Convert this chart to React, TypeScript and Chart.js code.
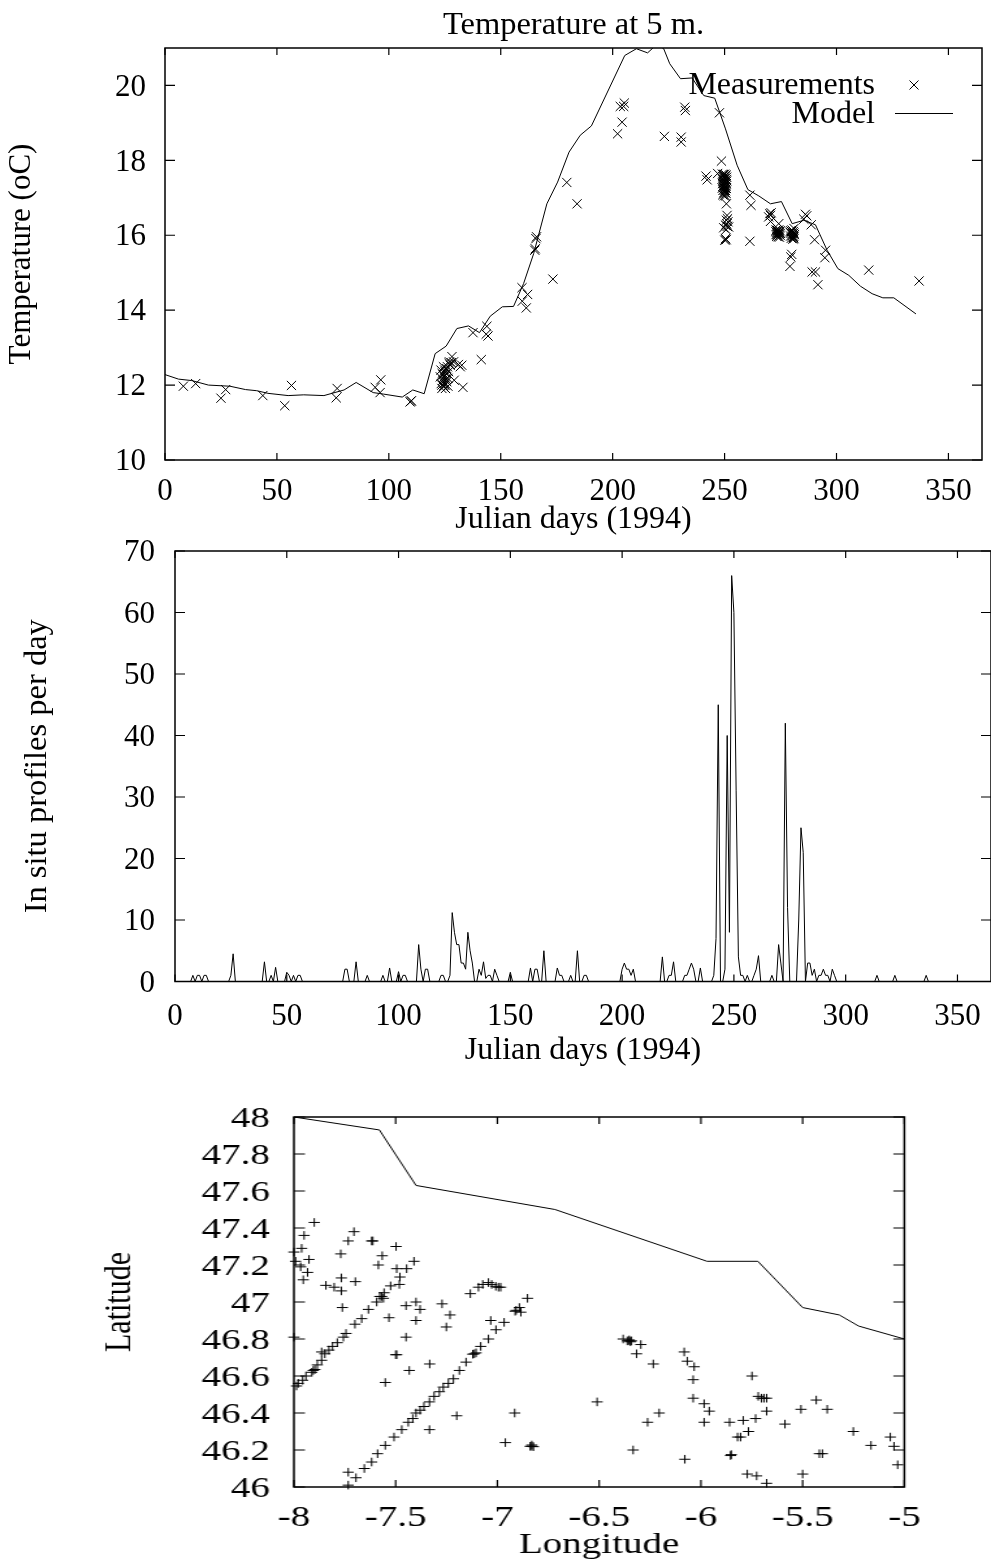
import React, { useEffect, useRef } from "react";
import { Chart, registerables } from "chart.js";

Chart.register(...registerables);

const modelCurve: number[][] = [
  [0, 12.28], [6, 12.16], [12, 12.12], [19.4, 12.0], [29, 11.97], [36, 11.88], [41, 11.85], [46, 11.78], [55, 11.72],
  [62, 11.74], [71, 11.72], [80, 11.87], [85.4, 12.07], [93, 11.8], [97.6, 11.76], [106, 11.68], [110.7, 11.87],
  [115.8, 11.77], [120.7, 12.84], [125.6, 13.04], [130.4, 13.51], [135.6, 13.58], [140.5, 13.4], [145.3, 13.84],
  [150.7, 14.09], [155.7, 14.1], [160.2, 14.71], [164.7, 15.51], [170.6, 16.84], [175.4, 17.42], [180.5, 18.22],
  [185.5, 18.67], [190.5, 18.92], [205.4, 20.8], [210.6, 20.98], [215.6, 20.87], [219.8, 21.1], [222.8, 20.98],
  [225.5, 20.58], [230.3, 20.18], [235.5, 20.2], [240.7, 19.73], [245.6, 19.66], [250.4, 18.84], [255.6, 17.87],
  [260.4, 17.22], [265.3, 17.05], [270.5, 16.84], [275.4, 16.9], [280.2, 16.31], [285.4, 16.4], [290.6, 16.28],
  [295.8, 15.6], [300.6, 15.11], [305.5, 14.93], [310.7, 14.64], [315.9, 14.44], [320.7, 14.33], [325.6, 14.33],
  [335.5, 13.9],
];

const earlyMeasurements: number[][] = [
  [8.2, 11.97], [13.7, 12.04], [25, 11.65], [27.1, 11.88], [43.7, 11.72], [53.5, 11.45], [56.5, 11.99], [76.5, 11.66],
  [76.9, 11.91], [93.9, 11.94], [96.4, 12.14], [96.1, 11.8], [109.8, 11.57], [109.5, 11.55], [110.1, 11.58],
];

const springCluster: number[][] = [
  [123.7, 11.91], [124.4, 11.96], [123.4, 12.04], [125.2, 12.0], [124.1, 12.13], [125.9, 12.09], [124.7, 12.22],
  [126.4, 12.18], [123.0, 12.22], [123.8, 12.31], [125.6, 12.31], [123.3, 12.4], [125.0, 12.4], [126.7, 12.36],
  [124.4, 12.49], [126.2, 12.49], [127.4, 12.53], [128.2, 12.76], [127.1, 12.62], [128.9, 12.62], [131.1, 12.55],
  [132.6, 12.53], [131.9, 12.49], [129.2, 12.13], [133.1, 11.94], [125.3, 11.91], [126.4, 11.97], [123.7, 12.0],
  [124.9, 12.05], [125.5, 12.16], [124.3, 12.27], [125.2, 12.35], [125.9, 12.44], [126.9, 12.58], [127.9, 12.6], [124.6, 11.99],
];

const summerMeasurements: number[][] = [
  [137.6, 13.4], [141.3, 12.68], [143.8, 13.57], [143.5, 13.36], [144.3, 13.31], [159.5, 14.6], [162.0, 14.42],
  [159.6, 14.24], [161.4, 14.06], [165.7, 15.91], [165.4, 15.64], [165.2, 15.6], [166, 15.96], [173.3, 14.83],
  [179.5, 17.41], [184.1, 16.84], [202.2, 18.71], [204.2, 19.02], [203.4, 19.44], [205.2, 19.53], [204.9, 19.44],
  [223.1, 18.64], [230.6, 18.62], [230.6, 18.49], [232.2, 19.42], [232.5, 19.33], [247.7, 19.27], [241.7, 17.58],
  [242.2, 17.48], [246.9, 17.65], [248.6, 17.98],
];

const autumnBlockA: number[][] = [
  [249, 17.63], [249.5, 17.62], [250, 17.63], [250.6, 17.61], [249.2, 17.57], [249.8, 17.56], [250.4, 17.58], [250.9, 17.55],
  [249, 17.5], [249.6, 17.5], [250.2, 17.52], [250.8, 17.49], [249.3, 17.44], [249.9, 17.45], [250.5, 17.43], [251, 17.45],
  [249.1, 17.38], [249.7, 17.39], [250.3, 17.37], [250.8, 17.38], [249.4, 17.32], [250, 17.33], [250.6, 17.31], [249, 17.26],
  [249.6, 17.27], [250.2, 17.26], [250.8, 17.25], [249.3, 17.2], [249.9, 17.2], [250.5, 17.19], [249.5, 17.13], [250.1, 17.14],
  [250.7, 17.12], [249.2, 17.08], [249.8, 17.06], [250.4, 17.05], [250.8, 16.84],
];

const autumnBlockB: number[][] = [
  [251.1, 16.53], [251.3, 16.44], [250.8, 16.4], [251.5, 16.36], [250.4, 16.27], [249.6, 16.2], [251.8, 16.22], [251.0, 16.3],
  [250.7, 16.15], [251.2, 16.24], [250.4, 15.91], [250.1, 15.87], [250.7, 15.88], [261.3, 17.07], [261.8, 16.8], [261.3, 15.84],
  [270.2, 16.58], [270.5, 16.53], [270.8, 16.6], [269.7, 16.49], [270.5, 16.37], [274.2, 16.31],
];

const autumnBlockC: number[][] = [
  [273, 16.14], [273.6, 16.13], [274.2, 16.14], [274.8, 16.12], [273.2, 16.08], [273.8, 16.07], [274.4, 16.06], [273, 16.02],
  [273.6, 16.01], [274.2, 16.03], [274.8, 16.0], [273.3, 15.97], [273.9, 15.96], [274.5, 15.95], [279.5, 16.12], [280.1, 16.14],
  [280.7, 16.1], [281, 16.18], [279.7, 16.05], [280.4, 16.04], [281, 16.06], [279.5, 15.98], [280.2, 15.99], [280.9, 15.97],
  [279.8, 15.92], [280.5, 15.9], [281, 15.91], [272.9, 16.1], [274.9, 16.05], [273.4, 16.04], [274.6, 16.09], [279.3, 16.08],
  [281.2, 16.02], [279.9, 16.1], [280.8, 15.94],
];

const lateMeasurements: number[][] = [
  [279.6, 15.42], [279.2, 15.17], [280, 15.49], [286.1, 16.56], [286.7, 16.52], [285.4, 16.43], [288.7, 16.28], [290.2, 15.88],
  [289.1, 15.02], [290.6, 15.02], [291.7, 14.68], [295.1, 15.6], [294.8, 15.4], [314.4, 15.07], [336.9, 14.78],
];

const profileDays: number[] = [
  8, 10, 11, 13, 14, 25, 26, 40, 43, 45, 50, 51, 53, 55, 56, 76, 77, 81, 86, 93, 96, 100, 102, 103, 109, 110, 112, 113,
  119, 120, 123, 124, 125, 126, 127, 128, 129, 130, 131, 132, 133, 136, 137, 138, 139, 140, 141, 143, 144, 150, 159, 161,
  162, 165, 171, 172, 173, 177, 180, 183, 184, 200, 201, 202, 203, 204, 205, 218, 221, 222, 223, 228, 229, 230, 231, 232,
  235, 241, 242, 243, 246, 247, 248, 249, 250, 251, 252, 253, 254, 256, 259, 260, 261, 267, 270, 271, 273, 274, 279, 280,
  281, 283, 284, 285, 286, 288, 289, 290, 291, 292, 294, 295, 314, 322, 336,
];
const profileCounts: number[] = [
  1, 1, 1, 1, 1, 1, 4.5, 3.2, 1, 2.3, 1.5, 1, 1, 1, 1, 2, 2, 3.2, 1, 1, 2.2, 1.6, 1, 1, 6, 2, 2, 2,
  1, 1, 1, 11.2, 8, 6, 6, 3, 3, 2, 8, 5, 3, 2, 1, 3.2, 0.5, 1, 1, 2, 1, 1.5, 2.2, 2,
  2, 5, 2.2, 1, 1, 1, 5, 1, 1, 2, 3, 2, 2, 1, 2, 4, 1, 1, 3.2, 1, 1, 2, 3, 2,
  2.2, 1, 7, 45, 2, 40, 8, 66, 60, 31, 4, 1, 1, 1, 1, 2, 4.2, 1, 6, 3, 42, 12, 10, 25,
  21, 3, 3, 1, 2, 1, 1, 2, 1, 1, 2, 1, 1, 1, 1,
];

const cruisePositions: number[][] = [
  [-7.9, 47.43], [-7.95, 47.36], [-7.962, 47.29], [-8.0, 47.27], [-7.992, 47.22], [-7.967, 47.19], [-7.926, 47.23],
  [-7.933, 47.16], [-7.954, 47.12], [-8.0, 46.81], [-7.705, 47.38], [-7.733, 47.33], [-7.77, 47.26], [-7.618, 47.33],
  [-7.612, 47.33], [-7.498, 47.3], [-7.566, 47.25], [-7.585, 47.2], [-7.41, 47.22], [-7.495, 47.18], [-7.446, 47.18],
  [-7.479, 47.135], [-7.482, 47.095], [-7.525, 47.087], [-7.843, 47.09], [-7.802, 47.08], [-7.767, 47.13], [-7.698, 47.11],
  [-7.767, 47.06], [-7.762, 46.97], [-7.557, 47.05], [-7.569, 47.03], [-7.578, 47.03], [-7.56, 47.02], [-7.593, 47.0],
  [-7.634, 46.96], [-7.667, 46.91], [-7.7, 46.88], [-7.744, 46.83], [-7.757, 46.81], [-7.787, 46.78], [-7.81, 46.76],
  [-7.828, 46.74], [-7.848, 46.72], [-7.864, 46.73], [-7.864, 46.685], [-7.885, 46.66], [-7.905, 46.63], [-7.912, 46.62],
  [-7.897, 46.635], [-7.941, 46.6], [-7.957, 46.577], [-7.979, 46.56], [-7.987, 46.546], [-7.533, 46.915], [-7.449, 46.98],
  [-7.4, 47.0], [-7.38, 46.96], [-7.4, 46.9], [-7.449, 46.81], [-7.5, 46.715], [-7.495, 46.715], [-7.433, 46.63],
  [-7.551, 46.565], [-7.333, 46.665], [-7.272, 46.99], [-7.233, 46.93], [-7.251, 46.865], [-7.133, 47.045], [-7.093, 47.08],
  [-7.072, 47.095], [-7.044, 47.105], [-7.028, 47.095], [-7.008, 47.085], [-6.995, 47.08], [-6.984, 47.08], [-6.852, 47.02],
  [-6.892, 46.97], [-6.913, 46.95], [-6.908, 46.955], [-6.885, 46.945], [-7.033, 46.9], [-6.967, 46.89], [-7.007, 46.85],
  [-7.044, 46.8], [-7.082, 46.76], [-7.113, 46.72], [-7.121, 46.718], [-7.105, 46.725], [-7.154, 46.675], [-7.187, 46.63],
  [-7.216, 46.585], [-7.241, 46.56], [-7.266, 46.54], [-7.285, 46.515], [-7.311, 46.49], [-7.334, 46.46], [-7.361, 46.435],
  [-7.38, 46.415], [-7.4, 46.4], [-7.416, 46.37], [-7.438, 46.35], [-7.47, 46.31], [-7.508, 46.27], [-7.551, 46.225],
  [-7.589, 46.18], [-7.618, 46.135], [-7.654, 46.1], [-7.695, 46.05], [-7.733, 46.08], [-7.733, 46.01], [-7.334, 46.31],
  [-7.2, 46.385], [-6.915, 46.4], [-6.961, 46.24], [-6.831, 46.22], [-6.839, 46.22], [-6.823, 46.218], [-6.831, 46.227],
  [-6.51, 46.46], [-6.382, 46.8], [-6.352, 46.79], [-6.362, 46.79], [-6.346, 46.785], [-6.352, 46.795], [-6.341, 46.79],
  [-6.295, 46.77], [-6.316, 46.72], [-6.234, 46.665], [-6.333, 46.2], [-6.205, 46.4], [-6.262, 46.35], [-6.082, 46.73],
  [-6.067, 46.68], [-6.033, 46.65], [-6.038, 46.58], [-6.038, 46.48], [-5.984, 46.45], [-5.959, 46.41], [-5.984, 46.35],
  [-6.079, 46.15], [-5.859, 46.35], [-5.792, 46.36], [-5.731, 46.37], [-5.766, 46.3], [-5.82, 46.27], [-5.805, 46.27],
  [-5.854, 46.17], [-5.851, 46.175], [-5.749, 46.6], [-5.718, 46.49], [-5.702, 46.48], [-5.69, 46.48], [-5.677, 46.48],
  [-5.677, 46.41], [-5.587, 46.34], [-5.508, 46.42], [-5.433, 46.47], [-5.379, 46.42], [-5.251, 46.3], [-5.164, 46.225],
  [-5.069, 46.27], [-5.051, 46.22], [-5.033, 46.12], [-5.418, 46.18], [-5.403, 46.18], [-5.5, 46.07], [-5.772, 46.07],
  [-5.726, 46.06], [-5.677, 46.02],
];

const coastline: number[][] = [
  [-8, 48], [-7.58, 47.93], [-7.4, 47.63], [-6.717, 47.5], [-5.97, 47.22], [-5.72, 47.22], [-5.5, 46.97], [-5.32, 46.93],
  [-5.225, 46.87], [-5, 46.8],
];

const FONT = "'Liberation Serif', 'Times New Roman', serif";
const INK = "#000";

const toXY = (rows: number[][]) => rows.map(([x, y]) => ({ x, y }));

function frameAndTicks(xLen: number, yLen: number) {
  return {
    id: "frameAndTicks",
    afterDraw(chart: any) {
      const { ctx, chartArea: a, scales } = chart;
      ctx.save();
      ctx.strokeStyle = INK;
      ctx.lineWidth = 1.5;
      ctx.strokeRect(a.left, a.top, a.right - a.left, a.bottom - a.top);
      ctx.lineWidth = 1.2;
      ctx.beginPath();
      scales.x.ticks.forEach((t: any, i: number) => {
        const p = scales.x.getPixelForTick(i);
        ctx.moveTo(p, a.top);
        ctx.lineTo(p, a.top + xLen);
        ctx.moveTo(p, a.bottom);
        ctx.lineTo(p, a.bottom - xLen);
      });
      scales.y.ticks.forEach((t: any, i: number) => {
        const p = scales.y.getPixelForTick(i);
        ctx.moveTo(a.left, p);
        ctx.lineTo(a.left + yLen, p);
        ctx.moveTo(a.right, p);
        ctx.lineTo(a.right - yLen, p);
      });
      ctx.stroke();
      ctx.restore();
    },
  };
}

const legendInside = {
  id: "legendInside",
  afterDraw(chart: any) {
    const { ctx } = chart;
    ctx.save();
    ctx.fillStyle = INK;
    ctx.strokeStyle = INK;
    ctx.lineWidth = 1;
    ctx.font = `32px ${FONT}`;
    ctx.textAlign = "right";
    ctx.textBaseline = "alphabetic";
    const labels = chart.data.datasets.map((d: any) => d.label).filter((l: any, i: number, all: any[]) => l && all.indexOf(l) === i);
    ctx.fillText(labels[0], 875, 94);
    ctx.fillText(labels[1], 875, 123);
    ctx.beginPath();
    ctx.moveTo(909.5, 80.5);
    ctx.lineTo(918.5, 89.5);
    ctx.moveTo(918.5, 80.5);
    ctx.lineTo(909.5, 89.5);
    ctx.moveTo(895, 113.5);
    ctx.lineTo(953, 113.5);
    ctx.stroke();
    ctx.restore();
  },
};

function axis(min: number, max: number, step: number, fontPx: number, pad: number, title: string, titleFont: number, titlePad: number, size: number, isX: boolean) {
  return {
    type: "linear",
    min,
    max,
    grid: { display: false, drawTicks: false },
    border: { display: false },
    afterFit: (s: any) => {
      if (isX) s.height = size;
      else s.width = size;
      s.paddingTop = 0;
      s.paddingBottom = 0;
      s.paddingLeft = 0;
      s.paddingRight = 0;
    },
    ticks: {
      stepSize: step,
      includeBounds: false,
      autoSkip: false,
      maxRotation: 0,
      minRotation: 0,
      padding: pad,
      labelOffset: isX ? 0 : 2,
      color: INK,
      font: { family: FONT, size: fontPx },
      callback: (v: any) => String(Math.round(Number(v) * 10) / 10),
    },
    title: {
      display: true,
      text: title,
      color: INK,
      padding: { top: titlePad, bottom: 0 },
      font: { family: FONT, size: titleFont },
    },
  };
}

function baseOptions(extra: any) {
  return {
    responsive: false,
    animation: false,
    devicePixelRatio: 1,
    events: [],
    ...extra,
  };
}

function useChart(build: (c: HTMLCanvasElement) => Chart) {
  const ref = useRef<HTMLCanvasElement | null>(null);
  useEffect(() => {
    const chart = build(ref.current as HTMLCanvasElement);
    return () => chart.destroy();
  }, []);
  return ref;
}

export default function App() {
  const tempRef = useChart((c) =>
    new Chart(c, {
      type: "scatter",
      data: {
        datasets: [
          ...[earlyMeasurements, springCluster, summerMeasurements, autumnBlockA, autumnBlockB, autumnBlockC, lateMeasurements].map((rows) => ({
            label: "Measurements",
            data: toXY(rows),
            pointStyle: "crossRot",
            radius: 6.5,
            borderColor: INK,
            backgroundColor: INK,
            borderWidth: 1,
            showLine: false,
            clip: false,
          })),
          {
            label: "Model",
            data: toXY(modelCurve),
            showLine: true,
            pointRadius: 0,
            borderColor: INK,
            borderWidth: 1,
          },
        ],
      },
      options: baseOptions({
        layout: { padding: { right: 9, top: 0, left: 0, bottom: 0 } },
        plugins: {
          legend: { display: false },
          tooltip: { enabled: false },
          title: {
            display: true,
            text: "Temperature at 5 m.",
            color: INK,
            fullSize: false,
            padding: { top: 6, bottom: 3 },
            font: { family: FONT, size: 32.5, weight: "normal" },
          },
        },
        scales: {
          x: axis(0, 365, 50, 31, 13, "Julian days (1994)", 32, 0, 79, true),
          y: axis(10, 21, 2, 31, 19, "Temperature (oC)", 31, 3.5, 165, false),
        },
      }),
      plugins: [frameAndTicks(7, 10), legendInside],
    } as any)
  );

  const profileRef = useChart((c) => {
    const daily = Array.from({ length: 366 }, (_, d) => {
      const i = profileDays.indexOf(d);
      return { x: d, y: i >= 0 ? profileCounts[i] : 0 };
    });
    return new Chart(c, {
      type: "scatter",
      data: {
        datasets: [
          {
            label: "In situ profiles",
            data: daily,
            showLine: true,
            pointRadius: 0,
            borderColor: INK,
            borderWidth: 1,
          },
        ],
      },
      options: baseOptions({
        layout: { padding: { top: 11, right: 0, left: 0, bottom: 0 } },
        plugins: { legend: { display: false }, tooltip: { enabled: false } },
        scales: {
          x: axis(0, 365, 50, 31, 17, "Julian days (1994)", 32, 0, 88.5, true),
          y: axis(0, 70, 10, 31, 20, "In situ profiles per day", 32.5, 17.5, 175, false),
        },
      }),
      plugins: [frameAndTicks(7, 10)],
    } as any);
  });

  const mapRef = useChart((c) =>
    new Chart(c, {
      type: "scatter",
      data: {
        datasets: [
          {
            label: "Positions",
            data: toXY(cruisePositions),
            pointStyle: "cross",
            radius: 4.3,
            borderColor: INK,
            backgroundColor: INK,
            borderWidth: 1,
            showLine: false,
            clip: false,
          },
          {
            label: "Coast",
            data: toXY(coastline),
            showLine: true,
            pointRadius: 0,
            borderColor: INK,
            borderWidth: 1,
          },
        ],
      },
      options: baseOptions({
        layout: { padding: { top: 27, right: 66.6, left: 0, bottom: 0 } },
        plugins: { legend: { display: false }, tooltip: { enabled: false } },
        scales: {
          x: axis(-8, -5, 0.5, 30, 13, "Longitude", 30, 0, 76, true),
          y: axis(46, 48, 0.2, 30, 18.5, "Latitude", 30, 74, 226, false),
        },
      }),
      plugins: [frameAndTicks(7, 8.5)],
    } as any)
  );

  const abs: React.CSSProperties = { position: "absolute", left: 0, display: "block" };
  return (
    <div style={{ position: "absolute", left: 0, top: 0, width: 991, height: 1562, overflow: "hidden", background: "#fff" }}>
      <canvas ref={tempRef} width={991} height={539} style={{ ...abs, top: 0, width: 991, height: 539 }} />
      <canvas ref={profileRef} width={991} height={530} style={{ ...abs, top: 540, width: 991, height: 530 }} />
      <div style={{ position: "absolute", left: 0, top: 1090, transformOrigin: "0 0", transform: "scaleX(1.3005)" }}>
        <canvas ref={mapRef} width={762} height={473} style={{ display: "block", width: 762, height: 473 }} />
      </div>
    </div>
  );
}
